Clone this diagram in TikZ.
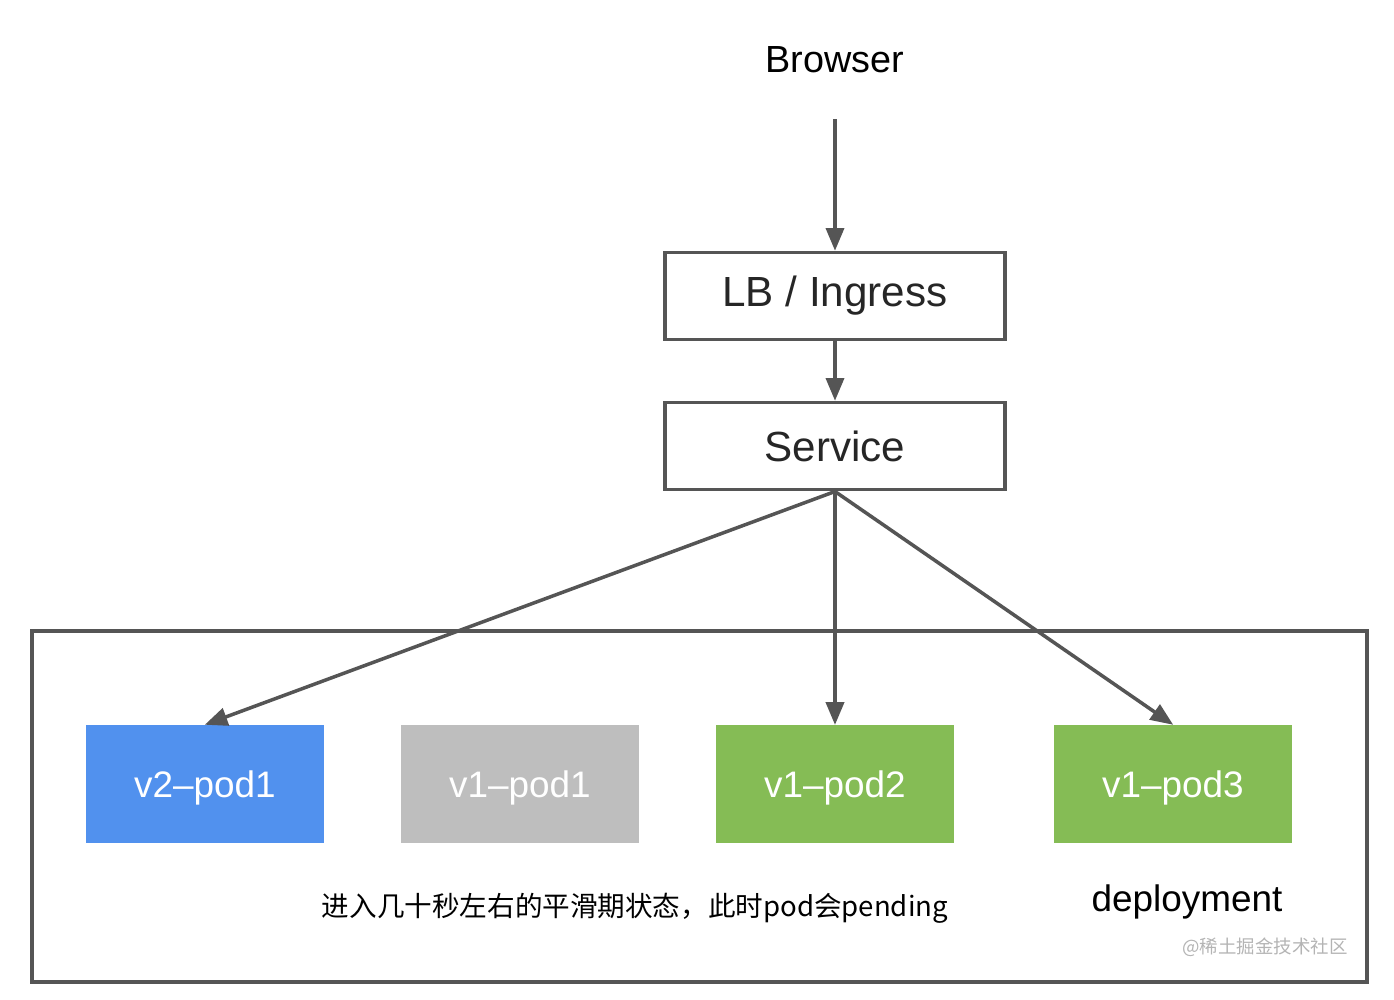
\documentclass[tikz,border=0pt]{standalone}
\usepackage{fontspec}
\setmainfont{Liberation Sans}
\newfontfamily\cjk{Noto Sans CJK SC}
\usepackage{xcolor}
\usetikzlibrary{arrows,positioning}
\definecolor{linegray}{HTML}{555555}
\definecolor{podblue}{HTML}{5191EE}
\definecolor{podgray}{HTML}{BEBEBE}
\definecolor{podgreen}{HTML}{85BC55}
\definecolor{marktext}{HTML}{B4B4B4}
\tikzset{
  boxnode/.style={draw=linegray,line width=2pt,minimum width=6.8cm,minimum height=1.75cm,font=\fontsize{24}{28}\selectfont,text=black!85},
  podnode/.style={minimum width=4.78cm,minimum height=2.36cm,text depth=0pt,font=\fontsize{21}{24}\selectfont,text=white},
  link/.style={->,>=triangle 45,draw=linegray,line width=2pt}
}
\begin{document}
\begin{tikzpicture}[x=0.02cm,y=-0.02cm]
\useasboundingbox (0,0) rectangle (1394,1000);
% top of the chain
\node (browser) at (835,60) {\fontsize{21.5}{26}\selectfont Browser};
\node[boxnode] (lb) at (835,296) {LB / Ingress};
\node[boxnode] (svc) at (835,446) {Service};
% deployment frame
\draw[linegray,line width=2pt] (32,631) rectangle (1367,982);
\node[podnode,fill=podblue] (p1) at (205,784) {v2--pod1};
\node[podnode,fill=podgray] (p2) at (520,784) {v1--pod1};
\node[podnode,fill=podgreen] (p3) at (835,784) {v1--pod2};
\node[podnode,fill=podgreen] (p4) at (1173,784) {v1--pod3};
\node (note) at (635,908) {\cjk\fontsize{15.7}{18}\selectfont 进入几十秒左右的平滑期状态，此时pod会pending};
\node (dep) at (1187,902) {\fontsize{21}{24}\selectfont deployment};
\node[text=marktext] (mark) at (1265,947) {\cjk\fontsize{10.5}{12}\selectfont @稀土掘金技术社区};
% connectors
\draw[link,shorten <=0.8cm] (browser) -- (lb);
\draw[link] (lb) -- (svc);
\draw[link] (svc.south) -- (p1.north);
\draw[link] (svc.south) -- (p3.north);
\draw[link] (svc.south) -- (p4.north);
\end{tikzpicture}
\end{document}
